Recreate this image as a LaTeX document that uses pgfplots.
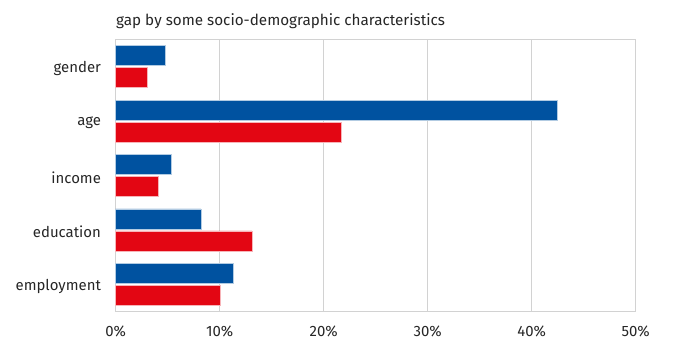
\documentclass[border=0pt]{standalone}
\usepackage{pgfplots}
\pgfplotsset{compat=1.18}
\usepackage{fontspec}
\setmainfont{Fira Sans}
\definecolor{cblue}{RGB}{0,82,160}
\definecolor{cred}{RGB}{227,6,19}
\definecolor{cgrid}{RGB}{210,210,210}
\begin{document}
\begin{tikzpicture}[x=1bp,y=1bp]
\path[use as bounding box] (0,0) rectangle (696,340);
\begin{axis}[
  at={(115.7bp,28.3bp)}, anchor=south west,
  scale only axis, width=520bp, height=272.4bp,
  xbar, bar width=20bp,
  xmin=0, xmax=50, ymin=-0.5, ymax=4.5,
  x axis line style={draw=none},
  y axis line style={draw=cgrid, line width=1bp},
  xtick={0,10,20,30,40,50},
  xticklabels={0\%,10\%,20\%,30\%,40\%,50\%},
  ytick={0,1,2,3,4},
  yticklabels={employment,education,income,age,gender},
  xmajorgrids, major grid style={cgrid, line width=1bp},
  tick style={draw=none},
  xticklabel style={yshift=-11bp, font=\fontsize{15}{17}\selectfont, text=black!85},
  yticklabel style={xshift=-7bp, yshift=-2bp, font=\fontsize{15}{17}\selectfont, text=black!85},
  title={gap by some socio-demographic characteristics},
  title style={at={(0,1)}, anchor=south west, xshift=-3bp, yshift=1bp, font=\fontsize{15.3}{17}\selectfont, text=black!85},
  clip=false,
]
\addplot[fill=cblue, draw=white!70!cblue, line width=0.5bp, bar shift=11bp] coordinates {(11.3,0) (8.2,1) (5.3,2) (42.5,3) (4.8,4)};
\addplot[fill=cred, draw=white!70!cred, line width=0.5bp, bar shift=-11bp] coordinates {(10.1,0) (13.1,1) (4.1,2) (21.7,3) (3.0,4)};
\end{axis}
\end{tikzpicture}
\end{document}
